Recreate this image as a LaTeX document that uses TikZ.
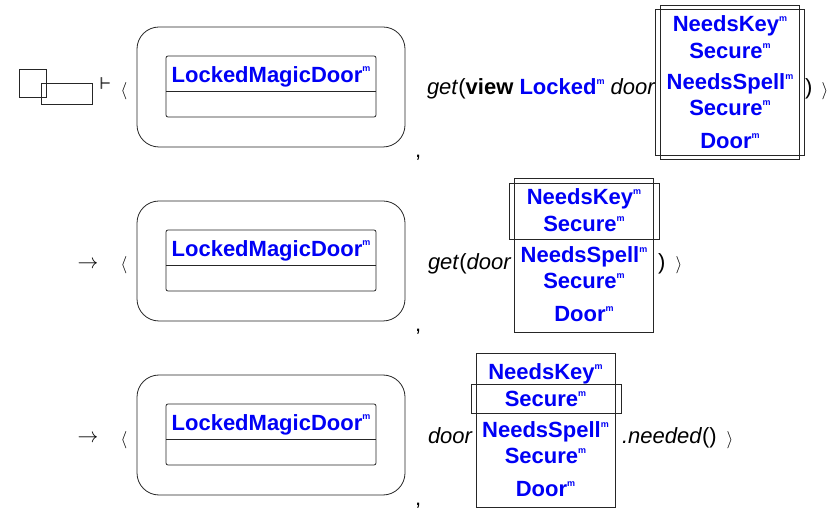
\documentclass[tikz,border=0pt]{standalone}
\usepackage{fontspec}
\setmainfont{Liberation Sans}
\definecolor{typeblue}{RGB}{0,0,245}
% small raised "m" tag after a type name
\newcommand\mtag{\raisebox{0.48em}{\fontsize{9}{9}\selectfont\bfseries m}}
% heavier turnstile, set twice with a small offset
\newcommand\heavyturn{\rlap{$\vdash$}\kern0.7pt\raisebox{0.3pt}{$\vdash$}}
\tikzset{
  every node/.style={inner sep=0pt, outer sep=0pt},
  frame/.style={draw=black!85, line width=0.8pt},
  txt/.style={anchor=base west, font=\fontsize{22}{26}\selectfont},
  cls/.style={anchor=base, font=\fontsize{22}{26}\selectfont\bfseries, text=typeblue},
  sym/.style={font=\fontsize{19}{19}\selectfont},
}
% a stack of class names in a frame
\newcommand\valstack[3]{%
  \node[frame, minimum width=139pt, minimum height=154pt, anchor=north] (#1) at (#2,#3) {};
  \node[cls] (#1k)  at (#2,#3+27)  {NeedsKey\mtag};
  \node[cls] (#1s)  at (#2,#3+54)  {Secure\mtag};
  \node[cls] (#1p)  at (#2,#3+85)  {NeedsSpell\mtag};
  \node[cls] (#1t)  at (#2,#3+111) {Secure\mtag};
  \node[cls] (#1d)  at (#2,#3+144) {Door\mtag};
}
\begin{document}
\begin{tikzpicture}[x=1pt,y=-1pt]
\useasboundingbox (0,0) rectangle (836,510);

% start marker
\node[frame, minimum width=27pt, minimum height=28pt, anchor=north west] (sqa) at (19,69) {};
\node[frame, minimum width=51pt, minimum height=21pt, anchor=north west] (sqb) at (41,83) {};
\node[font=\fontsize{19}{19}\selectfont] (turn) at (105.5,83.5) {\heavyturn};
\node[font=\fontsize{20}{20}\selectfont] (arr2) at (88,265) {$\rightarrow$};
\node[font=\fontsize{20}{20}\selectfont] (arr3) at (88,439) {$\rightarrow$};

% store with one object per step
\foreach \n/\oy/\ay in {1/27/91, 2/201/265, 3/375/440} {
  \node[sym] (la\n) at (124,\ay) {$\langle$};
  \node[frame, rounded corners=22pt, minimum width=268pt, minimum height=120pt, anchor=north] (st\n) at (271,\oy) {};
  \node[frame, rounded corners=2pt, minimum width=210pt, minimum height=61pt, anchor=north] (obj\n) at (271,\oy+29) {};
  \draw[frame] ([yshift=-35pt]obj\n.north west) -- ([yshift=-35pt]obj\n.north east);
  \node[cls] (lbl\n) at ([yshift=-26.5pt]obj\n.north) {LockedMagicDoor\mtag};
  \node[txt] (cm\n) at (415,\oy+131) {,};
}

% step 1
\node[txt] (ex1) at (427,95) {\textit{get}(\textbf{view} \textcolor{typeblue}{\textbf{Locked}\mtag} \textit{door}};
\valstack{va}{730}{5}
\node[frame, minimum width=149pt, minimum height=146pt, anchor=north] (ga) at (729.5,9) {};
\node[txt] (rp1) at (805,95) {)};
\node[sym] (ra1) at (825,91) {$\rangle$};

% step 2
\node[txt] (ex2) at (428,270) {\textit{get}(\textit{door}};
\valstack{vb}{584}{178}
\node[frame, minimum width=150pt, minimum height=56pt, anchor=north] (gb) at (584,183) {};
\node[txt] (rp2) at (658,270) {)};
\node[sym] (ra2) at (679,265) {$\rangle$};

% step 3
\node[txt] (ex3) at (428,444) {\textit{door}};
\valstack{vc}{545.5}{353}
\node[frame, minimum width=150pt, minimum height=29pt, anchor=north] (gc) at (546,384) {};
\node[txt] (nd3) at (622,444) {\textit{.needed}()};
\node[sym] (ra3) at (730,440) {$\rangle$};
\end{tikzpicture}
\end{document}
